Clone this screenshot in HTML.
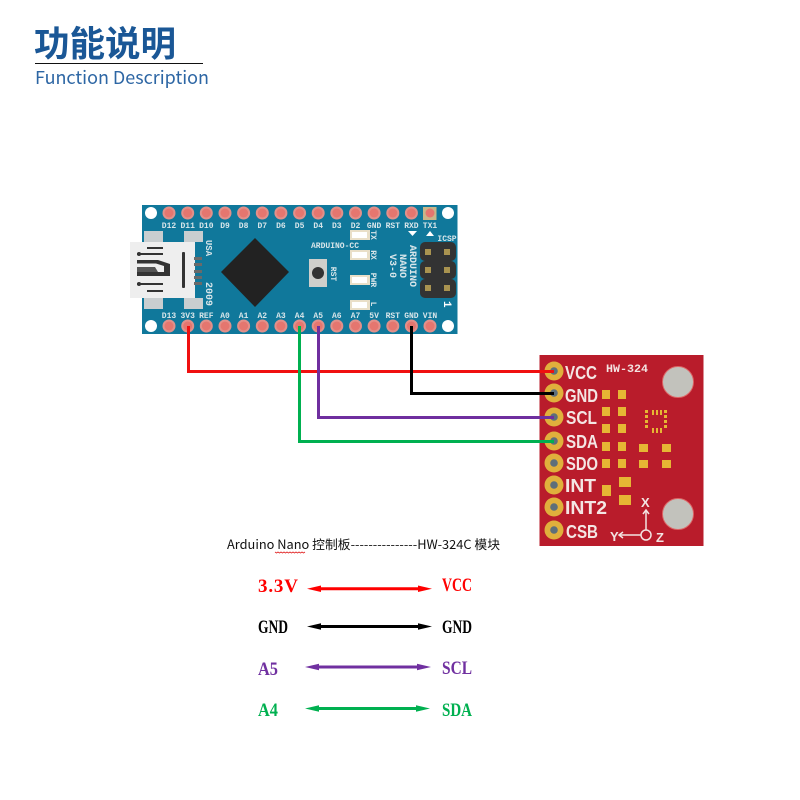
<!DOCTYPE html>
<html><head><meta charset="utf-8"><style>
html,body{margin:0;padding:0;background:#fff}
svg{display:block}
.t{font-family:"Liberation Mono",monospace;font-size:8px;font-weight:bold;fill:#d8e6ea;text-anchor:middle}
.r{font-family:"Liberation Sans",sans-serif;font-size:18px;font-weight:bold;fill:#f4e6e4}
.b{font-family:"Liberation Serif","Noto Serif CJK SC",serif;font-size:19px;font-weight:bold}
</style></head><body>
<svg width="800" height="800" viewBox="0 0 800 800" xmlns="http://www.w3.org/2000/svg">
<defs>
<g id="pin"><circle r="6.5" fill="#e2908a"/><circle r="4.5" fill="#e5766f"/></g>
<g id="pad"><circle r="9.5" fill="#e0b03c"/><circle r="3.8" fill="#5d6f7a"/></g>
<g id="led"><rect width="20" height="10" fill="#e9dfc8"/><rect x="2" y="2" width="15" height="6" fill="#fff"/></g>
</defs>
<rect width="800" height="800" fill="#fff"/>

<text x="34" y="56" font-family="'Noto Sans CJK SC',sans-serif" font-size="35.500" font-weight="700" fill="#1a5796">功能说明</text>
<rect x="35" y="63" width="168" height="1" fill="#111"/>
<text x="35" y="84" font-family="'Noto Sans CJK SC',sans-serif" font-size="18" fill="#2d66a4" textLength="174" lengthAdjust="spacingAndGlyphs">Function Description</text>

<!-- Arduino board -->
<rect x="142" y="205" width="315.500" height="129" fill="#10789b"/>
<g fill="#fff"><circle cx="151" cy="213" r="6"/><circle cx="448" cy="213" r="6"/><circle cx="151" cy="326" r="6"/><circle cx="448" cy="326" r="6"/></g>
<rect x="423" y="207" width="13.500" height="13" fill="#c9b689"/>
<use href="#pin" x="169" y="213"/><use href="#pin" x="187.700" y="213"/><use href="#pin" x="206.300" y="213"/><use href="#pin" x="225" y="213"/><use href="#pin" x="243.600" y="213"/><use href="#pin" x="262.300" y="213"/><use href="#pin" x="280.900" y="213"/><use href="#pin" x="299.600" y="213"/><use href="#pin" x="318.200" y="213"/><use href="#pin" x="336.800" y="213"/><use href="#pin" x="355.500" y="213"/><use href="#pin" x="374.100" y="213"/><use href="#pin" x="392.800" y="213"/><use href="#pin" x="411.400" y="213"/><circle cx="430" cy="213" r="4.500" fill="#e5766f"/>
<use href="#pin" x="169" y="326"/><use href="#pin" x="187.700" y="326"/><use href="#pin" x="206.300" y="326"/><use href="#pin" x="225" y="326"/><use href="#pin" x="243.600" y="326"/><use href="#pin" x="262.300" y="326"/><use href="#pin" x="280.900" y="326"/><use href="#pin" x="299.600" y="326"/><use href="#pin" x="318.200" y="326"/><use href="#pin" x="336.800" y="326"/><use href="#pin" x="355.500" y="326"/><use href="#pin" x="374.100" y="326"/><use href="#pin" x="392.800" y="326"/><use href="#pin" x="411.400" y="326"/><use href="#pin" x="430" y="326"/>
<g class="t">
<text x="169" y="228">D12</text><text x="187.700" y="228">D11</text><text x="206.300" y="228">D10</text><text x="225" y="228">D9</text><text x="243.600" y="228">D8</text><text x="262.300" y="228">D7</text><text x="280.900" y="228">D6</text><text x="299.600" y="228">D5</text><text x="318.200" y="228">D4</text><text x="336.800" y="228">D3</text><text x="355.500" y="228">D2</text><text x="374.100" y="228">GND</text><text x="392.800" y="228">RST</text><text x="411.400" y="228">RXD</text><text x="430" y="228">TX1</text>
<text x="169" y="318">D13</text><text x="187.700" y="318">3V3</text><text x="206.300" y="318">REF</text><text x="225" y="318">A0</text><text x="243.600" y="318">A1</text><text x="262.300" y="318">A2</text><text x="280.900" y="318">A3</text><text x="299.600" y="318">A4</text><text x="318.200" y="318">A5</text><text x="336.800" y="318">A6</text><text x="355.500" y="318">A7</text><text x="374.100" y="318">5V</text><text x="392.800" y="318">RST</text><text x="411.400" y="318">GND</text><text x="430" y="318">VIN</text>
<text x="335" y="248">ARDUINO-CC</text>
<text x="447" y="241">ICSP</text>
<text transform="translate(206,248) rotate(90)" font-size="9">USA</text>
<text transform="translate(206,294) rotate(90)" style="font-size:10px">2009</text>
<text transform="translate(331,274) rotate(90)">RST</text>
<text transform="translate(371,235) rotate(90)">TX</text>
<text transform="translate(371,255) rotate(90)">RX</text>
<text transform="translate(371,280) rotate(90)">PWR</text>
<text transform="translate(371,304) rotate(90)">L</text>
<text transform="translate(410,266) rotate(90)" style="font-size:10px">ARDUINO</text>
<text transform="translate(400,266) rotate(90)" style="font-size:10px">NANO</text>
<text transform="translate(390,266) rotate(90)" style="font-size:10px">V3-0</text>
</g>
<g fill="#c9ced0"><rect x="144" y="231" width="19" height="11"/><rect x="184" y="231" width="19" height="11"/><rect x="144" y="298" width="19" height="11"/><rect x="184" y="298" width="19" height="11"/></g>
<rect x="130" y="242" width="65" height="56" fill="#eeeeee"/>
<g fill="#6a6a6a"><rect x="194" y="257" width="8" height="3"/><rect x="194" y="263" width="8" height="3"/><rect x="194" y="270" width="8" height="3"/><rect x="194" y="276" width="8" height="3"/><rect x="194" y="282" width="8" height="3"/></g>
<g fill="#333">
<rect x="182" y="252" width="3" height="36" rx="1"/>
<rect x="147" y="247" width="16" height="2"/><rect x="147" y="290" width="16" height="2"/>
<rect x="137" y="253" width="26" height="2"/><rect x="137" y="283" width="26" height="2"/><circle cx="139" cy="254" r="2"/><circle cx="139" cy="284" r="2"/>
<path d="M137 260H158L170 264V276H137V272H164V266L156 263.500H137Z"/>
<path d="M137 267H155L158 272H137Z" fill="#555"/>
</g>
<polygon points="255,238 289,272 255,307 221,272" fill="#222"/>
<rect x="309" y="259" width="18" height="28" fill="#cfcfcb"/><circle cx="318" cy="273" r="6" fill="#333"/>
<use href="#led" x="350" y="230"/><use href="#led" x="350" y="250"/><use href="#led" x="350" y="275"/><use href="#led" x="350" y="300"/>
<polygon points="408,231 417,231 412.500,236" fill="#fff"/><polygon points="426,236 434,236 430,231" fill="#fff"/>
<g fill="#333"><rect x="420" y="242" width="36" height="19" rx="5"/><rect x="420" y="261" width="36" height="18" rx="5"/><rect x="420" y="279" width="36" height="19" rx="5"/></g>
<g fill="#a99350"><rect x="425" y="249" width="6" height="6"/><rect x="444" y="249" width="6" height="6"/><rect x="425" y="267" width="6" height="6"/><rect x="444" y="267" width="6" height="6"/><rect x="425" y="285" width="6" height="6"/><rect x="444" y="285" width="6" height="6"/></g>
<text transform="translate(444,301) rotate(90)" font-family="'Liberation Mono',monospace" font-size="11" font-weight="bold" fill="#fff">1</text>

<!-- Sensor board -->
<rect x="539.500" y="355" width="164" height="191" fill="#b91c2b"/>
<use href="#pad" x="554" y="371"/><use href="#pad" x="554" y="393"/><use href="#pad" x="554" y="417"/><use href="#pad" x="554" y="441"/><use href="#pad" x="554" y="463"/><use href="#pad" x="554" y="485"/><use href="#pad" x="554" y="507"/><use href="#pad" x="554" y="530"/>
<g class="r">
<text x="565" y="379" textLength="32" lengthAdjust="spacingAndGlyphs">VCC</text>
<text x="565" y="402" textLength="33" lengthAdjust="spacingAndGlyphs">GND</text>
<text x="566" y="424" textLength="31" lengthAdjust="spacingAndGlyphs">SCL</text>
<text x="566" y="448" textLength="32" lengthAdjust="spacingAndGlyphs">SDA</text>
<text x="566" y="470" textLength="32" lengthAdjust="spacingAndGlyphs">SDO</text>
<text x="565" y="492" textLength="31" lengthAdjust="spacingAndGlyphs">INT</text>
<text x="565" y="514" textLength="42" lengthAdjust="spacingAndGlyphs">INT2</text>
<text x="566" y="538" textLength="32" lengthAdjust="spacingAndGlyphs">CSB</text>
</g>
<text x="606" y="372" font-family="'Liberation Mono',monospace" font-size="11" font-weight="bold" fill="#f3e4e2" textLength="42" lengthAdjust="spacingAndGlyphs">HW-324</text>
<g fill="#c2c2bc" stroke="#d66" stroke-width="1"><circle cx="678" cy="382" r="15.500"/><circle cx="678" cy="514" r="15.500"/></g>
<g fill="#e6b634">
<rect x="602" y="390" width="8" height="9"/><rect x="618" y="390" width="8" height="9"/>
<rect x="602" y="407" width="8" height="9"/><rect x="618" y="407" width="8" height="9"/>
<rect x="602" y="424" width="8" height="9"/><rect x="618" y="424" width="8" height="9"/>
<rect x="602" y="442" width="8" height="9"/><rect x="618" y="442" width="8" height="9"/>
<rect x="602" y="459" width="8" height="9"/><rect x="618" y="459" width="8" height="9"/>
<rect x="639" y="444" width="9" height="8"/><rect x="662" y="444" width="9" height="8"/>
<rect x="639" y="460" width="9" height="8"/><rect x="662" y="460" width="9" height="8"/>
<rect x="619" y="477" width="12" height="10"/><rect x="619" y="495" width="12" height="10"/>
<rect x="602" y="485" width="9" height="11"/>
<rect x="645" y="410" width="3" height="3"/><rect x="645" y="415" width="3" height="3"/><rect x="645" y="420" width="3" height="3"/><rect x="645" y="425" width="3" height="3"/>
<rect x="664" y="410" width="3" height="3"/><rect x="664" y="415" width="3" height="3"/><rect x="664" y="420" width="3" height="3"/><rect x="664" y="425" width="3" height="3"/>
<rect x="652" y="410" width="2" height="5"/><rect x="656" y="410" width="2" height="5"/><rect x="660" y="410" width="2" height="5"/>
<rect x="652" y="428" width="2" height="5"/><rect x="656" y="428" width="2" height="5"/><rect x="660" y="428" width="2" height="5"/>
</g>
<g fill="none" stroke="#f3e4e2" stroke-width="1.500"><path d="M646 530V511"/><path d="M643 514l3-4 3 4"/><path d="M641 535H620"/><path d="M623 532l-4 3 4 3"/><circle cx="646" cy="535" r="5"/></g>
<g font-family="'Liberation Sans',sans-serif" font-size="13" font-weight="bold" fill="#f3e4e2"><text x="641" y="507">X</text><text x="610" y="541">Y</text><text x="656" y="542">Z</text></g>

<!-- Wires -->
<g fill="none" stroke-width="3">
<path d="M188.500 326V371.500H554" stroke="#f01010"/>
<path d="M411.500 326V393.500H554" stroke="#000"/>
<path d="M318.500 326V417.500H554" stroke="#6f2f9f"/>
<path d="M299.500 326V441.500H554" stroke="#00b050"/>
</g>

<!-- Legend -->
<text x="227" y="549" font-family="'Noto Sans CJK SC',sans-serif" font-size="12.500" fill="#111" textLength="273" lengthAdjust="spacingAndGlyphs">Arduino Nano 控制板---------------HW-324C 模块</text>
<path d="M275 552l1.500 1 1.500-1 1.500 1 1.500-1 1.500 1 1.500-1 1.500 1 1.500-1 1.500 1 1.500-1 1.500 1 1.500-1 1.500 1 1.500-1 1.500 1 1.500-1 1.500 1 1.500-1 1.500 1 1.500-1" fill="none" stroke="#e02020" stroke-width=".8"/>

<g class="b">
<text x="258" y="592" fill="#f00" textLength="40" lengthAdjust="spacing">3.3V</text><text x="442" y="591" fill="#f00" textLength="30" lengthAdjust="spacingAndGlyphs">VCC</text>
<text x="258" y="633" fill="#000" textLength="30" lengthAdjust="spacingAndGlyphs">GND</text><text x="442" y="633" fill="#000" textLength="30" lengthAdjust="spacingAndGlyphs">GND</text>
<text x="258" y="675" fill="#7030a0" textLength="20" lengthAdjust="spacingAndGlyphs">A5</text><text x="442" y="674" fill="#7030a0" textLength="30" lengthAdjust="spacingAndGlyphs">SCL</text>
<text x="258" y="716" fill="#00b050" textLength="20" lengthAdjust="spacingAndGlyphs">A4</text><text x="442" y="716" fill="#00b050" textLength="30" lengthAdjust="spacingAndGlyphs">SDA</text>
</g>
<g stroke-width="3">
<path d="M315 588.700H424" stroke="#f00"/><polygon points="307,588.700 321,585.500 321,592" fill="#f00"/><polygon points="432,588.700 418,585.500 418,592" fill="#f00"/>
<path d="M315 626.500H424" stroke="#000"/><polygon points="307,626.500 321,623.200 321,629.800" fill="#000"/><polygon points="432,626.500 418,623.200 418,629.800" fill="#000"/>
<path d="M313 667H423" stroke="#7030a0"/><polygon points="305,667 319,663.700 319,670.300" fill="#7030a0"/><polygon points="431,667 417,663.700 417,670.300" fill="#7030a0"/>
<path d="M313 708.500H422" stroke="#00b050"/><polygon points="305,708.500 319,705.200 319,711.800" fill="#00b050"/><polygon points="430,708.500 416,705.200 416,711.800" fill="#00b050"/>
</g>
</svg>
</body></html>
